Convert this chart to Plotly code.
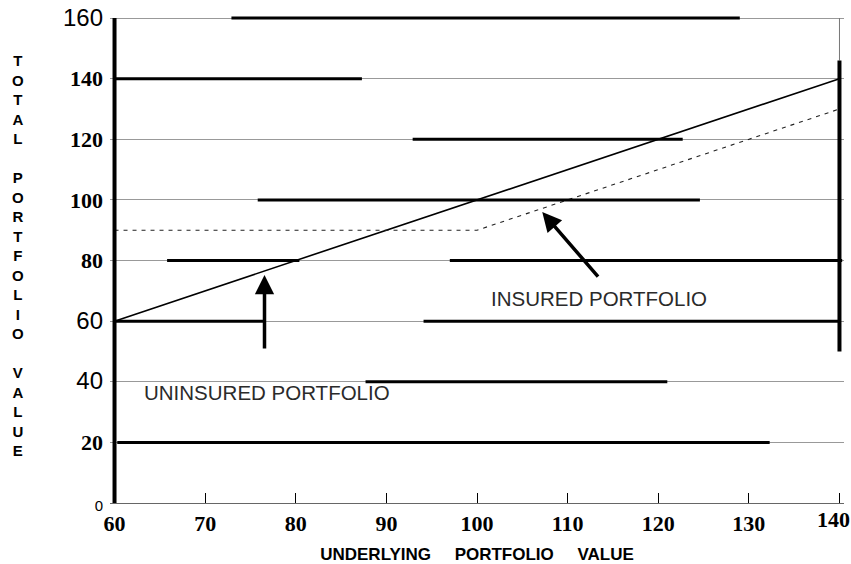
import plotly.graph_objects as go

# Portfolio values (underlying vs. total)
underlying = [60, 100, 140]
uninsured = [60, 100, 140]
insured = [90, 90, 130]

x_ticks = [60, 70, 80, 90, 100, 110, 120, 130]
x_last_tick = [140]
y_ticks = [0, 20, 40, 60, 80, 100, 120, 140, 160]

SERIF = "Liberation Serif"
SANS = "Liberation Sans"


def sans_label(txt, size=24):
    return f'<span style="font-family:{SANS};font-weight:400;font-size:{size}px">{txt}</span>'


y_ticktext = [sans_label("0", 15), "20", sans_label("40"), sans_label("60"),
              "80", "100", "120", "140", sans_label("160")]

# heavy rule segments on the grid: (level, start, end)
heavy_rules = [
    (160, 72.9, 129.0),
    (140, 60.0, 87.3),
    (120, 92.9, 122.7),
    (100, 75.8, 124.6),
    (80, 65.8, 80.4),
    (80, 97.0, 140.3),
    (60, 60.0, 76.6),
    (60, 94.1, 140.0),
    (40, 87.7, 121.0),
    (20, 60.3, 132.3),
]

fig = go.Figure()

shapes = []
for lvl, x0, x1 in heavy_rules:
    shapes.append(dict(type="line", xref="x", yref="y", x0=x0, x1=x1, y0=lvl, y1=lvl,
                       line=dict(color="black", width=3)))
# left axis bar and right-hand bar
shapes.append(dict(type="line", xref="x", yref="y", x0=60, x1=60, y0=0, y1=160,
                   line=dict(color="black", width=4)))
shapes.append(dict(type="line", xref="x", yref="y", x0=140, x1=140, y0=146, y1=160,
                   line=dict(color="#777", width=1)))
shapes.append(dict(type="line", xref="x", yref="y", x0=140, x1=140, y0=50, y1=146,
                   line=dict(color="black", width=4)))

fig.add_trace(go.Scatter(
    x=underlying, y=uninsured, mode="lines",
    line=dict(color="black", width=1.6), hoverinfo="skip", showlegend=False,
))
fig.add_trace(go.Scatter(
    x=underlying, y=insured, mode="lines",
    line=dict(color="#222", width=1.1, dash="4px,5px"), hoverinfo="skip", showlegend=False,
))
# carrier for the last x tick label, which sits nudged inward
fig.add_trace(go.Scatter(
    x=[100], y=[None], xaxis="x2", mode="markers", hoverinfo="skip", showlegend=False,
))

annotations = [
    dict(x=76.8, y=36.6, xref="x", yref="y", text="UNINSURED PORTFOLIO", showarrow=False,
         font=dict(family=SANS, size=20.5, color="#2a2a2a")),
    dict(x=113.5, y=67.6, xref="x", yref="y", text="INSURED PORTFOLIO", showarrow=False,
         font=dict(family=SANS, size=20.5, color="#2a2a2a")),
    dict(x=76.55, y=75.2, ax=76.55, ay=50.5, xref="x", yref="y", axref="x", ayref="y",
         text="", showarrow=True, arrowhead=2, arrowsize=1.1, arrowwidth=3.5, arrowcolor="black"),
    dict(x=107.2, y=96.0, ax=113.5, ay=74.2, xref="x", yref="y", axref="x", ayref="y",
         text="", showarrow=True, arrowhead=2, arrowsize=1.1, arrowwidth=3.5, arrowcolor="black"),
    dict(x=-0.125, y=0.505, xref="paper", yref="paper", xanchor="center", yanchor="middle",
         text="<br>".join(ch if ch != " " else "&nbsp;" for ch in "TOTAL PORTFOLIO VALUE"),
         showarrow=False, font=dict(family=SANS, size=15, color="black", weight="bold")),
]

gap = "&nbsp;" * 5
tick_font = dict(family=SERIF, size=22, color="black", weight="bold")
x_range = [59.5, 140.5]

fig.update_layout(
    width=851, height=564,
    margin=dict(l=110, r=7, t=12, b=61),
    paper_bgcolor="white", plot_bgcolor="white",
    shapes=shapes, annotations=annotations,
    xaxis=dict(
        range=x_range, tickvals=x_ticks + x_last_tick,
        ticktext=[str(v) for v in x_ticks] + [""], automargin=False,
        showgrid=False, zeroline=False, showline=True, linecolor="#666", linewidth=1,
        ticks="inside", ticklen=10, tickwidth=1, tickcolor="black",
        ticklabelstandoff=1, tickfont=tick_font,
        title=dict(text=f"UNDERLYING{gap}PORTFOLIO{gap}VALUE",
                   font=dict(family=SANS, size=17, color="black", weight="bold"), standoff=14),
    ),
    xaxis2=dict(
        overlaying="x", side="bottom", range=x_range, automargin=False,
        tickvals=x_last_tick, ticktext=[str(v) for v in x_last_tick],
        showgrid=False, zeroline=False, showline=False, ticks="",
        ticklabelshift=-6, ticklabeloverflow="allow", ticklabelstandoff=1,
        tickfont=tick_font,
    ),
    yaxis=dict(
        range=[0, 162], tickvals=y_ticks, ticktext=y_ticktext, automargin=False,
        showgrid=True, gridcolor="#999", gridwidth=1, zeroline=False, showline=False,
        ticks="", ticklabelstandoff=6,
        tickfont=tick_font,
    ),
)

fig.write_html("out.html")
